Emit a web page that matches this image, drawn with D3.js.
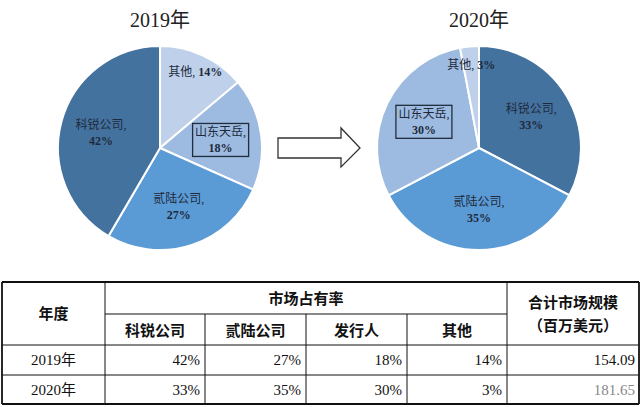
<!DOCTYPE html>
<html>
<head>
<meta charset="utf-8">
<script src="https://cdn.jsdelivr.net/npm/d3@7"></script>
<style>
  body { margin: 0; background: #fff; }
  svg { display: block; }
</style>
</head>
<body>
<svg id="chart" width="640" height="407"></svg>
<script>
// data
let years = ["2019年", "2020年"];
let order2019 = ["其他", "山东天岳", "贰陆公司", "科锐公司"];
let share2019 = [14, 18, 27, 42];
let order2020 = ["科锐公司", "贰陆公司", "山东天岳", "其他"];
let share2020 = [33, 35, 30, 3];

let tableCols = ["科锐公司", "贰陆公司", "发行人", "其他"];
let tableRows = [
    ["42%", "27%", "18%", "14%"],
    ["33%", "35%", "30%", "3%"]
];
let totals = ["154.09", "181.65"];

let colorOf = {
    "科锐公司": "#44729f",
    "贰陆公司": "#5b9bd5",
    "山东天岳": "#9dbbe0",
    "其他": "#bfd1ea"
};

let serif = "'Liberation Serif', 'Times New Roman', 'Noto Sans CJK SC', serif";
let sans = "'Noto Sans CJK SC', sans-serif";

let svg = d3.select("#chart");

/**
*   cx, cy: pie center
*   names, values: slice order clockwise from 12 o'clock
*   title: text above pie
*/
function drawPie(cx, cy, r, names, values, title) {
    let g = svg.append("g").attr("transform", "translate(" + cx + "," + cy + ")");
    let slices = names.map(function(n, i) { return { name: n, value: values[i] }; });

    let pie = d3.pie().sort(null).value(function(d) { return d.value; });
    let arc = d3.arc().innerRadius(0).outerRadius(r);
    let arcs = pie(slices);

    g.selectAll(".slice")
        .data(arcs)
        .enter()
        .append("path")
        .attr("d", arc)
        .attr("fill", function(d) { return colorOf[d.data.name]; })
        .attr("stroke", "#fff")
        .attr("stroke-width", 2);

    arcs.forEach(function(d) {
        // small slices get their label pushed outward
        let lr = d.data.name === "其他" ? r * 0.82 : r * 0.6;
        let c = d3.arc().innerRadius(lr).outerRadius(lr).centroid(d);
        let fill = "#1e2a3c";
        if (d.data.name === "其他") {
            g.append("text")
                .attr("x", c[0]).attr("y", c[1] + 4)
                .attr("text-anchor", "middle")
                .style("font-family", serif).style("font-size", "12px")
                .style("fill", fill)
                .text(d.data.name + ", ")
                .append("tspan").style("font-weight", "bold").text(d.data.value + "%");
            return;
        }
        if (d.data.name === "山东天岳") {
            g.append("rect")
                .attr("x", c[0] - 28).attr("y", c[1] - 16)
                .attr("width", 56).attr("height", 33)
                .attr("fill", "none")
                .attr("stroke", "#1f2d3d")
                .attr("stroke-width", 1.3);
        }
        g.append("text")
            .attr("x", c[0]).attr("y", c[1] - 3)
            .attr("text-anchor", "middle")
            .style("font-family", serif).style("font-size", "12px")
            .style("fill", fill)
            .text(d.data.name + ",");
        g.append("text")
            .attr("x", c[0]).attr("y", c[1] + 13)
            .attr("text-anchor", "middle")
            .style("font-family", serif).style("font-size", "12px")
            .style("font-weight", "bold")
            .style("fill", fill)
            .text(d.data.value + "%");
    });

    svg.append("text")
        .attr("x", cx).attr("y", 27)
        .attr("text-anchor", "middle")
        .style("font-family", serif).style("font-size", "20px")
        .style("fill", "#222")
        .text(title);
}

drawPie(160, 148, 102, order2019, share2019, years[0]);
drawPie(479, 148, 102, order2020, share2020, years[1]);

// arrow between the pies
let arrowPts = [[278, 138], [341, 138], [341, 128], [360, 148], [341, 167], [341, 158], [278, 158]];
svg.append("path")
    .attr("d", d3.line()(arrowPts) + "Z")
    .attr("fill", "#fff")
    .attr("stroke", "#333")
    .attr("stroke-width", 1.3);

// table
let colEdges = [2, 105, 205, 306, 407, 507, 639];
let rowEdges = [282, 314, 345, 375, 404];
let tg = svg.append("g");
let thin = 1, thick = 1.8;

function hline(x1, x2, y, w) {
    tg.append("line").attr("x1", x1).attr("x2", x2).attr("y1", y).attr("y2", y)
        .attr("stroke", "#111").attr("stroke-width", w);
}
function vline(x, y1, y2, w) {
    tg.append("line").attr("x1", x).attr("x2", x).attr("y1", y1).attr("y2", y2)
        .attr("stroke", "#111").attr("stroke-width", w);
}

hline(colEdges[0], colEdges[6], rowEdges[0], thick);
hline(colEdges[1], colEdges[5], rowEdges[1], thin);
hline(colEdges[0], colEdges[6], rowEdges[2], thin);
hline(colEdges[0], colEdges[6], rowEdges[3], thin);
hline(colEdges[0], colEdges[6], rowEdges[4], thick);
vline(colEdges[0], rowEdges[0], rowEdges[4], thick);
vline(colEdges[6], rowEdges[0], rowEdges[4], thick);
vline(colEdges[1], rowEdges[0], rowEdges[4], thin);
vline(colEdges[5], rowEdges[0], rowEdges[4], thin);
[2, 3, 4].forEach(function(i) { vline(colEdges[i], rowEdges[1], rowEdges[4], thin); });

function cellText(x, y, txt, anchor, font, weight, color) {
    tg.append("text")
        .attr("x", x).attr("y", y)
        .attr("text-anchor", anchor)
        .style("font-family", font).style("font-size", "15px")
        .style("font-weight", weight)
        .style("fill", color || "#111")
        .text(txt);
}

cellText((colEdges[0] + colEdges[1]) / 2, 319, "年度", "middle", sans, "bold");
cellText((colEdges[1] + colEdges[5]) / 2, 304, "市场占有率", "middle", sans, "bold");
cellText((colEdges[5] + colEdges[6]) / 2, 308, "合计市场规模", "middle", sans, "bold");
cellText((colEdges[5] + colEdges[6]) / 2, 331, "（百万美元）", "middle", sans, "bold");
tableCols.forEach(function(c, i) {
    cellText((colEdges[i + 1] + colEdges[i + 2]) / 2, 336, c, "middle", sans, "bold");
});

years.forEach(function(y, r) {
    let baseY = (rowEdges[r + 2] + rowEdges[r + 3]) / 2 + 5;
    cellText((colEdges[0] + colEdges[1]) / 2, baseY, y, "middle", serif, "normal");
    tableRows[r].forEach(function(v, i) {
        cellText(colEdges[i + 2] - 5, baseY, v, "end", serif, "normal");
    });
    cellText(colEdges[6] - 4, baseY, totals[r], "end", serif, "normal", r === 1 ? "#888" : "#111");
});
</script>
</body>
</html>
